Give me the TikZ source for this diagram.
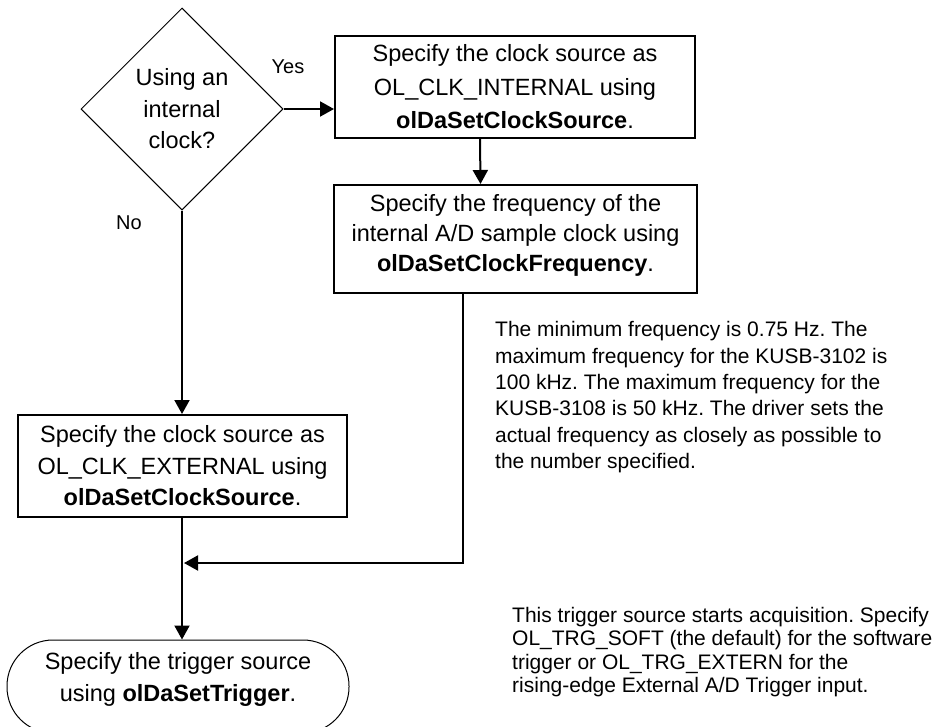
\documentclass[tikz,border=0pt]{standalone}
\usepackage{fontspec}
\setmainfont{Liberation Sans}
\usetikzlibrary{shapes.geometric,arrows.meta}
\begin{document}
\frenchspacing
\begin{tikzpicture}[x=1pt,y=-1pt,
  stepbox/.style={draw, rectangle, line width=2pt, inner sep=0pt, align=center},
  decision/.style={draw, diamond, aspect=1, line width=1pt, inner sep=0pt, align=center,
    minimum width=202pt, minimum height=202pt},
  terminal/.style={draw, rectangle, rounded corners=46pt, line width=1pt, inner sep=0pt,
    align=center},
  flow/.style={line width=2pt, -{Triangle[length=14pt,width=15pt]}},
  note/.style={inner sep=0pt, align=left, anchor=north west,
    font=\fontsize{21}{26.3}\selectfont},
  tag/.style={inner sep=0pt, font=\fontsize{20}{24}\selectfont}]
\useasboundingbox (0,0) rectangle (934,726);

% decision
\node[decision, font=\fontsize{23.5}{31.5}\selectfont] (dec) at (182,109)
  {Using an\\internal\\clock?};

% process boxes
\node[stepbox, minimum width=360pt, minimum height=102pt,
  font=\fontsize{23.5}{33.5}\selectfont] (int) at (515,87)
  {Specify the clock source as\\OL\_CLK\_INTERNAL using\\\textbf{olDaSetClockSource}.};
\node[stepbox, minimum width=363pt, minimum height=108pt,
  font=\fontsize{23.5}{30}\selectfont] (freq) at (515.5,239)
  {Specify the frequency of the\\internal A/D sample clock using\\\textbf{olDaSetClockFrequency}.\rule[-12pt]{0pt}{12pt}};
\node[stepbox, minimum width=329pt, minimum height=102pt,
  font=\fontsize{23.5}{31.5}\selectfont] (ext) at (182.5,466)
  {Specify the clock source as\\OL\_CLK\_EXTERNAL using\\\textbf{olDaSetClockSource}.};

% terminator
\node[terminal, minimum width=342pt, minimum height=93pt,
  font=\fontsize{23.5}{32}\selectfont] (trig) at (178,686.5)
  {Specify the trigger source\\using \textbf{olDaSetTrigger}.\rule[-20pt]{0pt}{20pt}};

% branch labels
\node[tag] (yes) at (288,67) {Yes};
\node[tag] (no) at (129,223) {No};

% notes
\node[note] (fnote) at (495,321.5)
  {The minimum frequency is 0.75 Hz. The\\
   maximum frequency for the KUSB-3102 is\\
   100 kHz. The maximum frequency for the\\
   KUSB-3108 is 50 kHz. The driver sets the\\
   actual frequency as closely as possible to\\
   the number specified.};
\node[note, font=\fontsize{21}{23.5}\selectfont] (tnote) at (512,607)
  {This trigger source starts acquisition. Specify\\
   OL\_TRG\_SOFT (the default) for the software\\
   trigger or OL\_TRG\_EXTERN for the\\
   rising-edge External A/D Trigger input.};

% connectors
\draw[flow] (dec.east) -- (dec.east -| int.west);
\draw[flow] ([xshift=-35pt]int.south) -- ([xshift=-35pt]freq.north);
\draw[flow] (dec.south) -- (dec.south |- ext.north);
\draw[flow] (ext.south -| dec.south) -- (dec.south |- trig.north);
\coordinate (join) at (184,563);
\draw[flow] ([xshift=-52.5pt]freq.south) |- (join);
\end{tikzpicture}
\end{document}
